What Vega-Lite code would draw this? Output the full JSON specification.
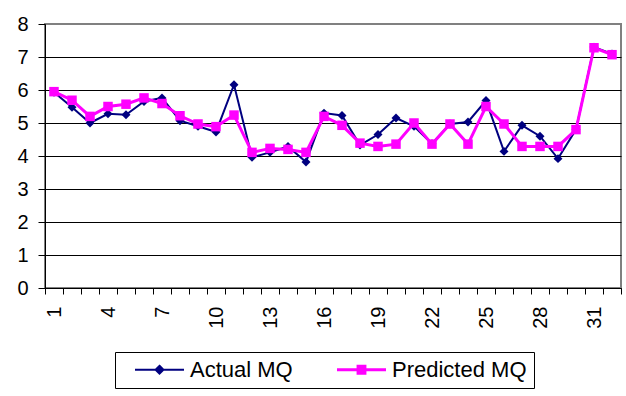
{
  "$schema": "https://vega.github.io/schema/vega-lite/v6.json",
  "autosize": "none",
  "width": 576,
  "height": 264,
  "padding": {"left": 45, "top": 24, "right": 5, "bottom": 108},
  "background": "white",
  "config": {
    "font": "Liberation Sans",
    "view": {"stroke": "#808080", "strokeWidth": 2},
    "axis": {"labelColor": "black", "domainColor": "black", "tickColor": "black", "title": null}
  },
  "data": {
    "values": [
      {"obs": 1, "series": "Actual MQ", "mq": 5.93}, {"obs": 2, "series": "Actual MQ", "mq": 5.48},
      {"obs": 3, "series": "Actual MQ", "mq": 5.0}, {"obs": 4, "series": "Actual MQ", "mq": 5.28},
      {"obs": 5, "series": "Actual MQ", "mq": 5.25}, {"obs": 6, "series": "Actual MQ", "mq": 5.65},
      {"obs": 7, "series": "Actual MQ", "mq": 5.76}, {"obs": 8, "series": "Actual MQ", "mq": 5.07},
      {"obs": 9, "series": "Actual MQ", "mq": 4.9}, {"obs": 10, "series": "Actual MQ", "mq": 4.73},
      {"obs": 11, "series": "Actual MQ", "mq": 6.16}, {"obs": 12, "series": "Actual MQ", "mq": 3.96},
      {"obs": 13, "series": "Actual MQ", "mq": 4.11}, {"obs": 14, "series": "Actual MQ", "mq": 4.29},
      {"obs": 15, "series": "Actual MQ", "mq": 3.82}, {"obs": 16, "series": "Actual MQ", "mq": 5.3},
      {"obs": 17, "series": "Actual MQ", "mq": 5.23}, {"obs": 18, "series": "Actual MQ", "mq": 4.33},
      {"obs": 19, "series": "Actual MQ", "mq": 4.65}, {"obs": 20, "series": "Actual MQ", "mq": 5.15},
      {"obs": 21, "series": "Actual MQ", "mq": 4.9}, {"obs": 22, "series": "Actual MQ", "mq": 4.37},
      {"obs": 23, "series": "Actual MQ", "mq": 4.97}, {"obs": 24, "series": "Actual MQ", "mq": 5.03},
      {"obs": 25, "series": "Actual MQ", "mq": 5.68}, {"obs": 26, "series": "Actual MQ", "mq": 4.14},
      {"obs": 27, "series": "Actual MQ", "mq": 4.93}, {"obs": 28, "series": "Actual MQ", "mq": 4.6},
      {"obs": 29, "series": "Actual MQ", "mq": 3.92}, {"obs": 30, "series": "Actual MQ", "mq": 4.8},
      {"obs": 31, "series": "Actual MQ", "mq": 7.3}, {"obs": 32, "series": "Actual MQ", "mq": 7.09},
      {"obs": 1, "series": "Predicted MQ", "mq": 5.95}, {"obs": 2, "series": "Predicted MQ", "mq": 5.69},
      {"obs": 3, "series": "Predicted MQ", "mq": 5.2}, {"obs": 4, "series": "Predicted MQ", "mq": 5.5},
      {"obs": 5, "series": "Predicted MQ", "mq": 5.57}, {"obs": 6, "series": "Predicted MQ", "mq": 5.76},
      {"obs": 7, "series": "Predicted MQ", "mq": 5.59}, {"obs": 8, "series": "Predicted MQ", "mq": 5.22},
      {"obs": 9, "series": "Predicted MQ", "mq": 4.97}, {"obs": 10, "series": "Predicted MQ", "mq": 4.89},
      {"obs": 11, "series": "Predicted MQ", "mq": 5.24}, {"obs": 12, "series": "Predicted MQ", "mq": 4.11},
      {"obs": 13, "series": "Predicted MQ", "mq": 4.23}, {"obs": 14, "series": "Predicted MQ", "mq": 4.2},
      {"obs": 15, "series": "Predicted MQ", "mq": 4.11}, {"obs": 16, "series": "Predicted MQ", "mq": 5.2},
      {"obs": 17, "series": "Predicted MQ", "mq": 4.93}, {"obs": 18, "series": "Predicted MQ", "mq": 4.39},
      {"obs": 19, "series": "Predicted MQ", "mq": 4.29}, {"obs": 20, "series": "Predicted MQ", "mq": 4.36},
      {"obs": 21, "series": "Predicted MQ", "mq": 5.0}, {"obs": 22, "series": "Predicted MQ", "mq": 4.36},
      {"obs": 23, "series": "Predicted MQ", "mq": 4.97}, {"obs": 24, "series": "Predicted MQ", "mq": 4.36},
      {"obs": 25, "series": "Predicted MQ", "mq": 5.5}, {"obs": 26, "series": "Predicted MQ", "mq": 4.97},
      {"obs": 27, "series": "Predicted MQ", "mq": 4.29}, {"obs": 28, "series": "Predicted MQ", "mq": 4.29},
      {"obs": 29, "series": "Predicted MQ", "mq": 4.29}, {"obs": 30, "series": "Predicted MQ", "mq": 4.8},
      {"obs": 31, "series": "Predicted MQ", "mq": 7.28}, {"obs": 32, "series": "Predicted MQ", "mq": 7.07}
    ]
  },
  "encoding": {
    "x": {
      "field": "obs",
      "type": "ordinal",
      "scale": {"type": "band", "paddingInner": 0, "paddingOuter": 0},
      "axis": {
        "labelAngle": 270,
        "labelFontSize": 20,
        "labelPadding": 12,
        "tickSize": 6,
        "tickBand": "extent",
        "labelExpr": "(datum.value - 1) % 3 === 0 ? datum.label : ''"
      }
    },
    "y": {
      "field": "mq",
      "type": "quantitative",
      "scale": {"domain": [0, 8], "nice": false},
      "axis": {
        "values": [0, 1, 2, 3, 4, 5, 6, 7, 8],
        "labelFontSize": 20,
        "labelPadding": 10,
        "tickSize": 7,
        "grid": true,
        "gridColor": {"condition": {"test": "datum.value === 8", "value": "transparent"}, "value": "black"},
        "gridOpacity": 1
      }
    },
    "color": {
      "field": "series",
      "type": "nominal",
      "scale": {"domain": ["Actual MQ", "Predicted MQ"], "range": ["#000080", "#ff00ff"]},
      "legend": {
        "title": null,
        "orient": "none",
        "legendX": 70,
        "legendY": 328,
        "direction": "horizontal",
        "padding": 7,
        "strokeColor": "black",
        "fillColor": "white",
        "cornerRadius": 0,
        "labelFontSize": 22,
        "labelColor": "black",
        "symbolSize": 2401,
        "clipHeight": 21,
        "columnPadding": 31,
        "encode": {
          "symbols": {
            "update": {
              "x": {"value": 37.5},
              "shape": {"signal": "datum.value === 'Actual MQ' ? 'M-1.5306,0M-1,0L1,0M0,-0.16L0.16,0L0,0.16L-0.16,0Z' : 'M-1.5306,0M-1,0L1,0M-0.14,-0.14L0.14,-0.14L0.14,0.14L-0.14,0.14Z'"},
              "stroke": {"signal": "datum.value === 'Actual MQ' ? '#000080' : '#ff00ff'"},
              "fill": {"signal": "datum.value === 'Actual MQ' ? '#000080' : '#ff00ff'"},
              "strokeWidth": {"signal": "datum.value === 'Actual MQ' ? 2 : 3"},
              "opacity": {"value": 1}
            }
          },
          "labels": {
            "update": {"x": {"value": 68}}
          }
        }
      }
    }
  },
  "layer": [
    {
      "transform": [{"filter": "datum.series === 'Actual MQ'"}],
      "mark": {"type": "line", "strokeWidth": 2},
      "encoding": {}
    },
    {
      "transform": [{"filter": "datum.series === 'Actual MQ'"}],
      "mark": {"type": "point", "shape": "diamond", "filled": true, "size": 80, "opacity": 1}
    },
    {
      "transform": [{"filter": "datum.series === 'Predicted MQ'"}],
      "mark": {"type": "line", "strokeWidth": 3},
      "encoding": {}
    },
    {
      "transform": [{"filter": "datum.series === 'Predicted MQ'"}],
      "mark": {"type": "point", "shape": "square", "filled": true, "size": 90, "opacity": 1}
    }
  ]
}
